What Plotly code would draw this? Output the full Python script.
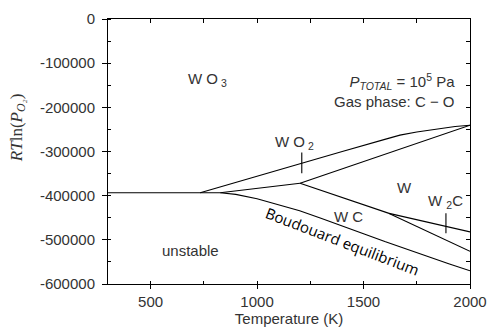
import plotly.graph_objects as go

# ---- data (T in K, RT ln(P_O2) in J/mol) ----
T_horiz = [300, 827]
v_horiz = [-393500, -393500]

T_wo3_wo2 = [733, 1000, 1202, 1400, 1600, 1671, 1750, 1860, 1930, 2000]
v_wo3_wo2 = [-393500, -355600, -327000, -300100, -272500, -263000, -256000, -248000, -243500, -240400]

T_wo2_w = [1202, 2000]
v_wo2_w = [-372000, -240400]

T_mid = [827, 1202]
v_mid = [-393500, -372000]

T_w_wc = [1202, 1620]
v_w_wc = [-372000, -440100]

T_w_w2c = [1620, 2000]
v_w_w2c = [-440100, -482000]

T_wc_w2c = [1620, 2000]
v_wc_w2c = [-440100, -526000]

T_boud = [827, 900, 1000, 1100, 1200, 1300, 1400, 1500, 1600, 1700, 1800, 1900, 2000]
v_boud = [-393500, -397000, -407000, -420000, -434000, -451000, -468000, -486000,
          -504000, -521000, -538000, -554000, -570000]

T_ptr_wo2 = [1210, 1210]
v_ptr_wo2 = [-302000, -349000]
T_ptr_w2c = [1887, 1887]
v_ptr_w2c = [-440000, -485000]

x_ticks = [500, 1000, 1500, 2000]
y_ticks = [0, -100000, -200000, -300000, -400000, -500000, -600000]
y_ticktext = ["0", "-100000", "-200000", "-300000", "-400000", "-500000", "-600000"]

LINE = dict(color="black", width=1.1)
TXT = "#333333"
SANS = "Liberation Sans, Arial, sans-serif"
NARROW = "Liberation Sans Narrow, Liberation Sans, Arial, sans-serif"

fig = go.Figure()
for T, v in [(T_horiz, v_horiz), (T_wo3_wo2, v_wo3_wo2), (T_wo2_w, v_wo2_w),
             (T_mid, v_mid), (T_w_wc, v_w_wc), (T_w_w2c, v_w_w2c),
             (T_wc_w2c, v_wc_w2c), (T_boud, v_boud),
             (T_ptr_wo2, v_ptr_wo2), (T_ptr_w2c, v_ptr_w2c)]:
    fig.add_trace(go.Scatter(x=T, y=v, mode="lines", line=LINE,
                             showlegend=False, hoverinfo="skip"))

# invisible trace for the mirrored (top/right) axes
fig.add_trace(go.Scatter(x=[300], y=[0], xaxis="x2", yaxis="y2", mode="markers",
                         marker=dict(opacity=0), showlegend=False, hoverinfo="skip"))

fig.update_layout(
    width=488, height=328,
    margin=dict(l=108, r=18, t=19, b=44),
    paper_bgcolor="white", plot_bgcolor="white",
    font=dict(family=SANS, size=15, color=TXT),
    xaxis=dict(range=[300, 2000], tickvals=x_ticks, ticks="outside", ticklen=4,
               tickcolor="black", showline=True, linecolor="black", linewidth=1,
               showgrid=False, zeroline=False, automargin=False,
               minor=dict(tick0=250, dtick=250, ticks="inside", ticklen=3, tickcolor="black"),
               title=dict(text="Temperature (K)", font=dict(size=15, color=TXT), standoff=1),
               tickfont=dict(size=15, color=TXT)),
    yaxis=dict(range=[-600000, 0], tickvals=y_ticks, ticktext=y_ticktext,
               ticks="outside", ticklen=5,
               tickcolor="black", showline=True, linecolor="black", linewidth=1,
               showgrid=False, zeroline=False, ticklabelstandoff=4, automargin=False,
               minor=dict(tick0=0, dtick=50000, ticks="inside", ticklen=3, tickcolor="black"),
               tickfont=dict(size=15, color=TXT)),
    xaxis2=dict(range=[300, 2000], overlaying="x", side="top", anchor="y2",
                tick0=250, dtick=250, ticks="inside", ticklen=4, tickcolor="black",
                showticklabels=False, showline=True, linecolor="black", linewidth=1,
                showgrid=False, zeroline=False, automargin=False),
    yaxis2=dict(range=[-600000, 0], overlaying="y", side="right", anchor="x2",
                tick0=0, dtick=50000, ticks="inside", ticklen=4, tickcolor="black",
                showticklabels=False, showline=True, linecolor="black", linewidth=1,
                showgrid=False, zeroline=False, automargin=False),
)

# y-axis title
fig.add_annotation(text="<i>RT</i>ln(<i>P<sub>O₂</sub></i>)", xref="paper", yref="paper",
                   x=-0.25, y=0.59, xanchor="center", yanchor="middle",
                   textangle=-90, showarrow=False,
                   font=dict(family="Liberation Serif, DejaVu Serif, serif", size=17, color=TXT))

# region labels (data coords)
labels = [
    ("W O<sub> 3</sub>", 767, -136000),
    ("W O<sub> 2</sub>", 1178, -279000),
    ("W", 1691, -381000),
    ("W <sub>2</sub>C", 1884, -413000),
    ("W C", 1428, -447000),
]
for t, x, y in labels:
    fig.add_annotation(text=t, x=x, y=y, xref="x", yref="y", showarrow=False,
                       font=dict(family=NARROW, size=15, color=TXT))

fig.add_annotation(text="unstable", x=686, y=-525000, xref="x", yref="y", showarrow=False,
                   font=dict(family=SANS, size=15, color=TXT))

fig.add_annotation(text="Boudouard equilibrium", x=1400, y=-502000, xref="x", yref="y",
                   showarrow=False, textangle=21,
                   font=dict(family="Open Sans, sans-serif", size=15, color="black"))

fig.add_annotation(text="<i>P<sub>TOTAL</sub></i> = 10<sup>5</sup> Pa<br>Gas phase: C − O",
                   x=1939, y=-161000, xref="x", yref="y", showarrow=False, align="right",
                   xanchor="right", yanchor="middle",
                   font=dict(family=SANS, size=15, color=TXT))

fig.write_html("out.html", config={"displayModeBar": False},
               post_script="document.body.style.margin='0';")
